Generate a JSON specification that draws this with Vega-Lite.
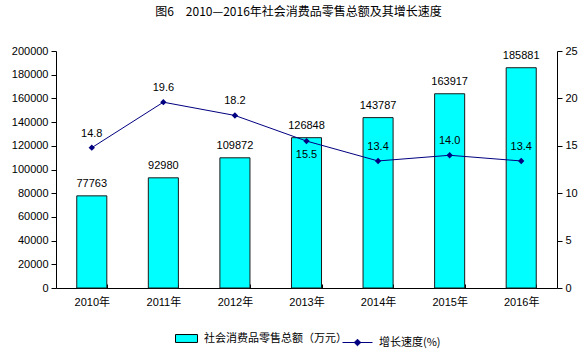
{
  "$schema": "https://vega.github.io/schema/vega-lite/v6.json",
  "autosize": "none",
  "width": 501,
  "height": 237,
  "padding": {"left": 56, "top": 51, "right": 31, "bottom": 69},
  "background": "white",
  "title": {
    "text": "图6　2010—2016年社会消费品零售总额及其增长速度",
    "fontSize": 12,
    "font": "Noto Sans CJK SC",
    "fontWeight": "normal",
    "color": "#000000",
    "anchor": "middle",
    "offset": 26,
    "dx": -8
  },
  "config": {
    "view": {"stroke": null},
    "font": "Liberation Sans, Noto Sans CJK SC",
    "axis": {
      "labelFont": "Liberation Sans, Noto Sans CJK SC",
      "labelFontSize": 11,
      "labelColor": "#000000",
      "domainColor": "#000000",
      "tickColor": "#000000",
      "grid": false,
      "title": null,
      "labelOverlap": false
    },
    "legend": {
      "labelFont": "Noto Sans CJK SC",
      "labelFontSize": 11,
      "labelColor": "#000000"
    }
  },
  "data": {
    "values": [
      {"year": "2010年", "sales": 77763, "growth": 14.8, "lab": "14.8", "pos": "above"},
      {"year": "2011年", "sales": 92980, "growth": 19.6, "lab": "19.6", "pos": "above"},
      {"year": "2012年", "sales": 109872, "growth": 18.2, "lab": "18.2", "pos": "above"},
      {"year": "2013年", "sales": 126848, "growth": 15.5, "lab": "15.5", "pos": "below"},
      {"year": "2014年", "sales": 143787, "growth": 13.4, "lab": "13.4", "pos": "above"},
      {"year": "2015年", "sales": 163917, "growth": 14.0, "lab": "14.0", "pos": "above"},
      {"year": "2016年", "sales": 185881, "growth": 13.4, "lab": "13.4", "pos": "above"}
    ]
  },
  "encoding": {
    "x": {
      "field": "year",
      "type": "nominal",
      "sort": null,
      "scale": {"paddingInner": 0.58, "paddingOuter": 0.29},
      "axis": {"labelAngle": 0, "tickBand": "extent", "tickSize": -4, "labelPadding": 12, "domainWidth": 1}
    }
  },
  "layer": [
    {
      "encoding": {
        "y": {
          "field": "sales",
          "type": "quantitative",
          "scale": {"domain": [0, 200000], "nice": false},
          "axis": {"values": [0,20000,40000,60000,80000,100000,120000,140000,160000,180000,200000], "format": "d", "tickSize": 5, "labelPadding": 3, "labelOverlap": false}
        }
      },
      "layer": [
        {
          "mark": {"type": "bar", "stroke": "#1a1a1a", "strokeWidth": 1},
          "encoding": {
            "fill": {
              "datum": "社会消费品零售总额（万元）",
              "type": "nominal",
              "scale": {"range": ["#00FFFF"]},
              "legend": {"title": null, "orient": "none", "legendX": 119, "legendY": 276, "symbolType": "M-1,-0.36H1V0.36H-1Z", "symbolSize": 484, "symbolStrokeColor": "#000000", "symbolStrokeWidth": 1, "labelOffset": 6}
            }
          }
        },
        {
          "mark": {"type": "text", "dy": -12, "fontSize": 11, "color": "#000000"},
          "encoding": {
            "text": {"field": "sales", "type": "quantitative", "format": "d"}
          }
        }
      ]
    },
    {
      "encoding": {
        "y": {
          "field": "growth",
          "type": "quantitative",
          "scale": {"domain": [0, 25]},
          "axis": {"orient": "right", "values": [0,5,10,15,20,25], "tickSize": 5, "labelPadding": 3}
        }
      },
      "layer": [
        {
          "mark": {"type": "line", "color": "#000080", "strokeWidth": 1},
          "encoding": {
            "stroke": {
              "datum": "增长速度(%)",
              "type": "nominal",
              "scale": {"range": ["#000080"]},
              "legend": {"title": null, "orient": "none", "legendX": 286, "legendY": 276, "symbolType": "M-1,0H1M-0.22,0L0,-0.22L0.22,0L0,0.22Z", "symbolSize": 900, "symbolFillColor": "#000080", "symbolStrokeWidth": 1, "labelOffset": 6}
            }
          }
        },
        {
          "mark": {"type": "point", "shape": "diamond", "filled": true, "color": "#000080", "size": 40, "opacity": 1},
          "encoding": {}
        },
        {
          "transform": [{"filter": "datum.pos == 'above'"}],
          "mark": {"type": "text", "dy": -14, "fontSize": 11, "color": "#000000"},
          "encoding": {
            "text": {"field": "lab"}
          }
        },
        {
          "transform": [{"filter": "datum.pos == 'below'"}],
          "mark": {"type": "text", "dy": 14, "fontSize": 11, "color": "#000000"},
          "encoding": {
            "text": {"field": "lab"}
          }
        }
      ]
    }
  ],
  "resolve": {"scale": {"y": "independent", "fill": "independent", "stroke": "independent"}}
}
